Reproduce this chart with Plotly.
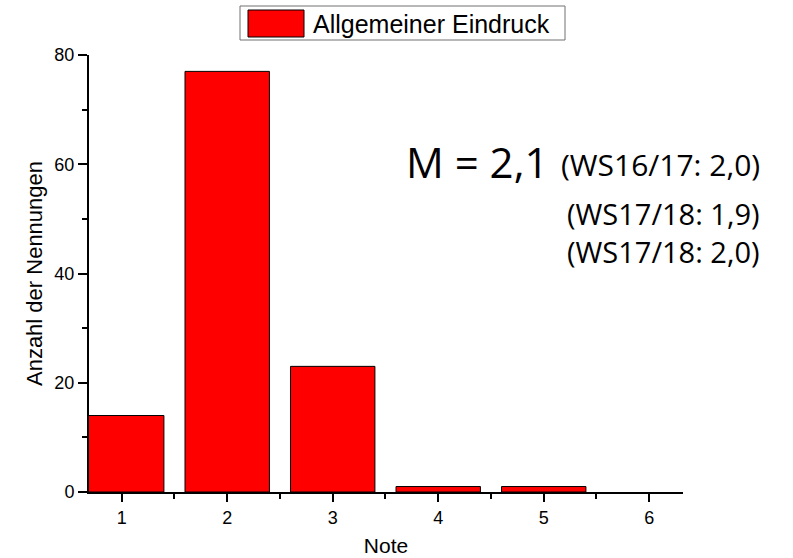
import plotly.graph_objects as go

# Data
noten = [1, 2, 3, 4, 5, 6]
nennungen = [14, 77, 23, 1, 1, 0]
x_ticks = [1, 2, 3, 4, 5, 6]
x_minor = [1.5, 2.5, 3.5, 4.5, 5.5]
y_ticks = [0, 20, 40, 60, 80]
y_minor = [10, 30, 50, 70]
series_name = "Allgemeiner Eindruck"
mean_text = "M = 2,1"
prev_texts = ["(WS16/17: 2,0)", "(WS17/18: 1,9)", "(WS17/18: 2,0)"]

W, H = 793, 558
L, R, T, B = 89, 110, 55, 66

def px(x):
    return (x - L) / (W - L - R)

def py(y):
    return (H - B - y) / (H - T - B)

fig = go.Figure()
fig.add_trace(go.Bar(
    x=noten, y=nennungen, name=series_name, width=0.8,
    marker=dict(color="#FF0000",
                line=dict(color="#000000", width=[1 if v > 0 else 0 for v in nennungen])),
    showlegend=False,
))

axis_font = dict(family="Liberation Sans, Arial, sans-serif", size=18, color="#000000")
title_font = dict(family="Liberation Sans, Arial, sans-serif", size=21, color="#000000")

fig.update_xaxes(
    range=[0.69, 6.32], tickvals=x_ticks, ticktext=[str(v) for v in x_ticks],
    ticks="outside", ticklen=8, tickwidth=1.5, tickcolor="#000",
    minor=dict(tickvals=x_minor, ticks="outside", ticklen=5, tickwidth=1.5, tickcolor="#000"),
    showline=True, linecolor="#000", linewidth=2, showgrid=False, zeroline=False,
    tickfont=axis_font, automargin=False,
    title=dict(text="Note", font=title_font, standoff=12),
)
fig.update_yaxes(
    range=[0, 80], tickvals=y_ticks,
    ticks="outside", ticklen=9, tickwidth=1.5, tickcolor="#000",
    minor=dict(tickvals=y_minor, ticks="outside", ticklen=5, tickwidth=1.5, tickcolor="#000"),
    showline=True, linecolor="#000", linewidth=2, showgrid=False, zeroline=False,
    tickfont=axis_font, automargin=False,
    title=dict(text="Anzahl der Nennungen", font=dict(title_font, size=22), standoff=6),
)

# Legend box (drawn manually for a large swatch)
fig.add_shape(type="rect", xref="paper", yref="paper",
              x0=px(240), x1=px(565), y0=py(40), y1=py(6),
              line=dict(color="#707070", width=1), fillcolor="#FFFFFF")
fig.add_shape(type="rect", xref="paper", yref="paper",
              x0=px(248), x1=px(304), y0=py(37), y1=py(10),
              line=dict(color="#000000", width=1), fillcolor="#FF0000")
fig.add_annotation(xref="paper", yref="paper", x=px(311), y=py(23.5),
                   xanchor="left", yanchor="middle", showarrow=False,
                   text=series_name,
                   font=dict(family="Liberation Sans, Arial, sans-serif", size=25, color="#000"))

# Mean annotation
text_font = "Open Sans, Noto Sans, sans-serif"
fig.add_annotation(xref="paper", yref="paper", x=px(404), y=py(161),
                   xanchor="left", yanchor="middle", showarrow=False,
                   text=mean_text, font=dict(family=text_font, size=42, color="#000"))
fig.add_annotation(xref="paper", yref="paper", x=px(762), y=py(164),
                   xanchor="right", yanchor="middle", showarrow=False,
                   text=prev_texts[0], font=dict(family=text_font, size=30, color="#000"))
fig.add_annotation(xref="paper", yref="paper", x=px(762), y=py(232),
                   xanchor="right", yanchor="middle", showarrow=False, align="right",
                   text="<br>".join(prev_texts[1:]),
                   font=dict(family=text_font, size=29, color="#000"))

fig.update_layout(
    width=W, height=H,
    margin=dict(l=L, r=R, t=T, b=B, pad=0),
    paper_bgcolor="#FFFFFF", plot_bgcolor="#FFFFFF",
    bargap=0.2,
)

fig.write_html("out.html", config={"displayModeBar": False},
               post_script="document.body.style.margin='0';document.body.style.overflow='hidden';")
